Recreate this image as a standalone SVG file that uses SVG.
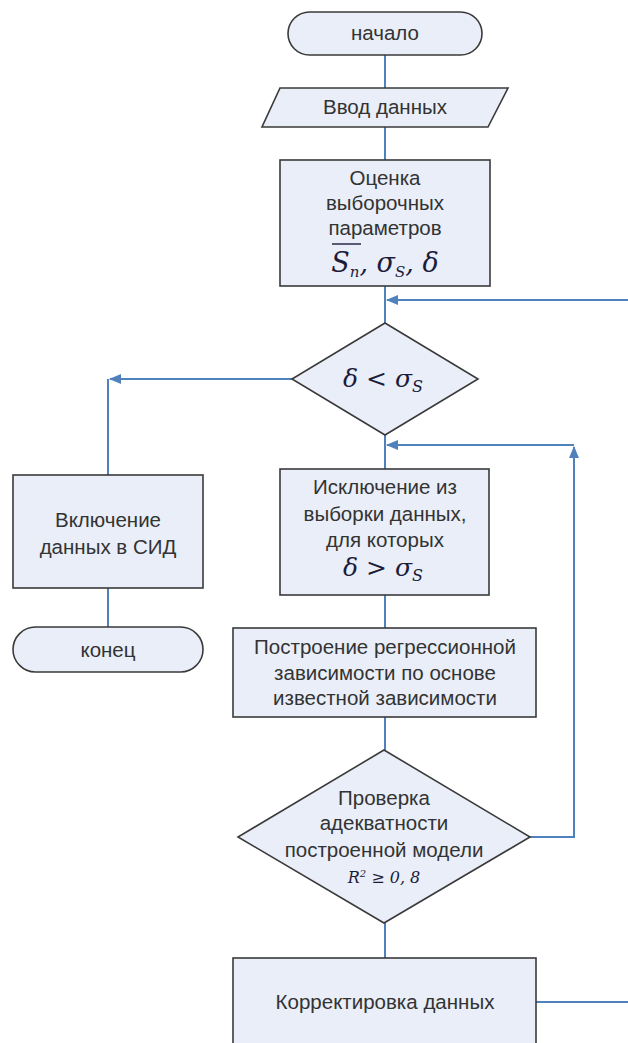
<svg xmlns="http://www.w3.org/2000/svg" width="628" height="1043" viewBox="0 0 628 1043">
<style>
.n{fill:#e9eef8;stroke:#3a3a3a;stroke-width:1.6}
.t{font-family:"Liberation Sans",Arial,sans-serif;font-size:20.5px;fill:#333;text-anchor:middle}
.m{font-family:"DejaVu Serif","Liberation Serif",serif;font-style:italic;fill:#1c1c3a;text-anchor:middle}
.c{fill:none;stroke:#4f81bd;stroke-width:2}
</style>
<defs>
<marker id="a" markerWidth="12" markerHeight="10" refX="11" refY="5" orient="auto" markerUnits="userSpaceOnUse">
<path d="M0,0 L12,5 L0,10 Z" fill="#4f81bd"/>
</marker>
</defs>
<rect width="628" height="1043" fill="#fff"/>
<g id="connectors">
<line class="c" x1="385" y1="55" x2="385" y2="88"/>
<line class="c" x1="385" y1="127" x2="385" y2="160"/>
<line class="c" x1="385" y1="286" x2="385" y2="323"/>
<line class="c" x1="628" y1="300" x2="387" y2="300" marker-end="url(#a)"/>
<polyline class="c" points="292,379 110,379" marker-end="url(#a)"/>
<line class="c" x1="108" y1="379" x2="108" y2="475"/>
<line class="c" x1="108" y1="588" x2="108" y2="627"/>
<line class="c" x1="385" y1="435" x2="385" y2="469"/>
<line class="c" x1="574" y1="445" x2="387" y2="445" marker-end="url(#a)"/>
<polyline class="c" points="530,837 574,837 574,447" marker-end="url(#a)"/>
<line class="c" x1="385" y1="595" x2="385" y2="628"/>
<line class="c" x1="385" y1="717" x2="385" y2="750"/>
<line class="c" x1="385" y1="923" x2="385" y2="958"/>
<line class="c" x1="536" y1="1002" x2="628" y2="1002"/>
</g>
<g id="start">
<rect class="n" x="288" y="12" width="194" height="43" rx="21.5"/>
<text class="t" x="385" y="40">начало</text>
</g>
<g id="input">
<polygon class="n" points="280,88 508,88 488,127 262,127"/>
<text class="t" x="385" y="114">Ввод данных</text>
</g>
<g id="estimate">
<rect class="n" x="280" y="160" width="210" height="126"/>
<text class="t" x="385" y="185">Оценка</text>
<text class="t" x="385" y="210">выборочных</text>
<text class="t" x="385" y="235">параметров</text>
<line x1="332" y1="244" x2="361" y2="244" stroke="#1c1c3a" stroke-width="1.4"/>
<text class="m" x="385" y="272" font-size="27">S<tspan font-size="15" dy="5">n</tspan><tspan dy="-5">, σ</tspan><tspan font-size="15" dy="5">S</tspan><tspan dy="-5">, δ</tspan></text>
</g>
<g id="cond1">
<polygon class="n" points="385,323 478,379 385,435 292,379"/>
<text class="m" x="383" y="387" font-size="25">δ &lt; σ<tspan font-size="16" dy="5">S</tspan></text>
</g>
<g id="include">
<rect class="n" x="13" y="475" width="190" height="113"/>
<text class="t" x="108" y="527">Включение</text>
<text class="t" x="108" y="554">данных в СИД</text>
</g>
<g id="end">
<rect class="n" x="13" y="627" width="190" height="45" rx="22.5"/>
<text class="t" x="108" y="657">конец</text>
</g>
<g id="exclude">
<rect class="n" x="280" y="469" width="209" height="126"/>
<text class="t" x="385" y="494">Исключение из</text>
<text class="t" x="385" y="521">выборки данных,</text>
<text class="t" x="385" y="547">для которых</text>
<text class="m" x="383" y="576" font-size="25">δ &gt; σ<tspan font-size="16" dy="5">S</tspan></text>
</g>
<g id="regression">
<rect class="n" x="233" y="628" width="303" height="89"/>
<text class="t" x="385" y="654">Построение регрессионной</text>
<text class="t" x="385" y="680">зависимости по основе</text>
<text class="t" x="385" y="705">известной зависимости</text>
</g>
<g id="cond2">
<polygon class="n" points="384,750 530,837 384,923 238,837"/>
<text class="t" x="384" y="805">Проверка</text>
<text class="t" x="384" y="830">адекватности</text>
<text class="t" x="384" y="857">построенной модели</text>
<text class="m" x="384" y="883" font-size="16">R<tspan font-size="10" dy="-6">2</tspan><tspan dy="6" font-style="normal"> ≥ </tspan>0, 8</text>
</g>
<g id="correct">
<rect class="n" x="233" y="958" width="303" height="100"/>
<text class="t" x="385" y="1009">Корректировка данных</text>
</g>
</svg>
